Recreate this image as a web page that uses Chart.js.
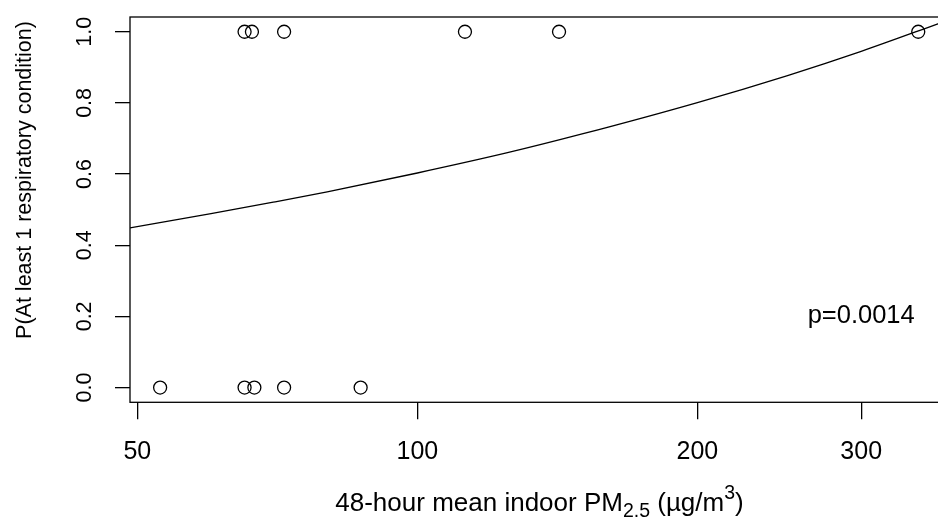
<!DOCTYPE html>
<html>
<head>
<meta charset="utf-8">
<script src="https://cdn.jsdelivr.net/npm/chart.js@4/dist/chart.umd.min.js"></script>
<style>
  html, body { margin: 0; padding: 0; background: #fff; overflow: hidden; }
  #wrap { width: 949px; height: 521px; }
</style>
</head>
<body>
<div id="wrap"><canvas id="chart" width="949" height="521"></canvas></div>
<script>
// observations: PM2.5 value for kids with / without a respiratory condition
const yesPM = [65.2, 66.4, 71.9, 112.5, 142.0, 345.5]
const noPM = [52.9, 65.2, 66.8, 71.9, 86.9]

// fitted curve
const curvePM = [49.1, 60, 70, 80, 100, 125, 150, 200, 250, 300, 366]
const curveP = [0.449, 0.489, 0.521, 0.550, 0.603, 0.660, 0.712, 0.801, 0.877, 0.945, 1.026]

const xTicks = [50, 100, 200, 300]
const yTicks = [0, 0.2, 0.4, 0.6, 0.8, 1.0]

const pLabel = 'p=0.0014'
const FONT = '"Liberation Sans", Arial, sans-serif'

const annotate = {
    id: 'annotate',
    afterDraw(chart) {
        const ctx = chart.ctx
        const a = chart.chartArea
        const xs = chart.scales.x
        const ys = chart.scales.y
        ctx.save()
        ctx.strokeStyle = '#000'
        ctx.lineWidth = 1.3
        ctx.strokeRect(a.left, a.top, a.right - a.left, a.bottom - a.top)

        ctx.fillStyle = '#000'
        // rotated y tick labels
        ctx.font = '21.5px ' + FONT
        ctx.textAlign = 'center'
        ctx.textBaseline = 'middle'
        ys.ticks.forEach(t => {
            ctx.save()
            ctx.translate(85, ys.getPixelForValue(t.value))
            ctx.rotate(-Math.PI / 2)
            ctx.fillText(t.value.toFixed(1), 0, 0)
            ctx.restore()
        })
        // y title
        ctx.save()
        ctx.translate(25, 180)
        ctx.rotate(-Math.PI / 2)
        ctx.fillText('P(At least 1 respiratory condition)', 0, 0)
        ctx.restore()

        // p value
        ctx.font = '25.5px ' + FONT
        ctx.fillText(pLabel, xs.getPixelForValue(300), ys.getPixelForValue(0.2))

        // x title with sub/superscript
        const parts = [
            { t: '48-hour mean indoor PM', f: 26, dy: 0 },
            { t: '2.5', f: 19.5, dy: 6 },
            { t: ' (\u00b5g/m', f: 26, dy: 0 },
            { t: '3', f: 19.5, dy: -12 },
            { t: ')', f: 26, dy: 0 },
        ]
        let total = 0
        parts.forEach(p => { ctx.font = p.f + 'px ' + FONT; p.w = ctx.measureText(p.t).width; total += p.w })
        let x = 539.5 - total / 2
        ctx.textAlign = 'left'
        ctx.textBaseline = 'alphabetic'
        parts.forEach(p => {
            ctx.font = p.f + 'px ' + FONT
            ctx.fillText(p.t, x, 511 + p.dy)
            x += p.w
        })
        ctx.restore()
    }
}

new Chart(document.getElementById('chart'), {
    type: 'scatter',
    data: {
        datasets: [
            {
                type: 'line',
                data: curvePM.map((v, i) => ({ x: v, y: curveP[i] })),
                borderColor: '#000',
                borderWidth: 1.3,
                pointRadius: 0,
                fill: false,
                cubicInterpolationMode: 'monotone',
            },
            {
                data: yesPM.map(v => ({ x: v, y: 1 })).concat(noPM.map(v => ({ x: v, y: 0 }))),
                pointStyle: 'circle',
                pointRadius: 6.5,
                pointBorderWidth: 1.3,
                borderColor: '#000',
                backgroundColor: 'rgba(0,0,0,0)',
            },
        ],
    },
    options: {
        responsive: false,
        animation: false,
        layout: { padding: { top: 17, right: 3, left: 0, bottom: 0 } },
        plugins: { legend: { display: false }, tooltip: { enabled: false } },
        scales: {
            x: {
                type: 'logarithmic',
                min: 49.1,
                max: 365.7,
                afterBuildTicks: s => { s.ticks = xTicks.map(v => ({ value: v })) },
                afterFit: s => { s.height = 118.7 },
                ticks: {
                    callback: v => String(v),
                    font: { size: 25, family: FONT },
                    color: '#000',
                    padding: 18,
                    maxRotation: 0,
                    autoSkip: false,
                },
                grid: { drawOnChartArea: false, tickLength: 17, color: '#000', lineWidth: 1.3 },
                border: { display: false },
            },
            y: {
                min: -0.0415,
                max: 1.0415,
                afterBuildTicks: s => { s.ticks = yTicks.map(v => ({ value: v })) },
                afterFit: s => { s.width = 130 },
                ticks: { display: false },
                grid: { drawOnChartArea: false, tickLength: 15, color: '#000', lineWidth: 1.3 },
                border: { display: false },
            },
        },
    },
    plugins: [annotate],
})
</script>
</body>
</html>
